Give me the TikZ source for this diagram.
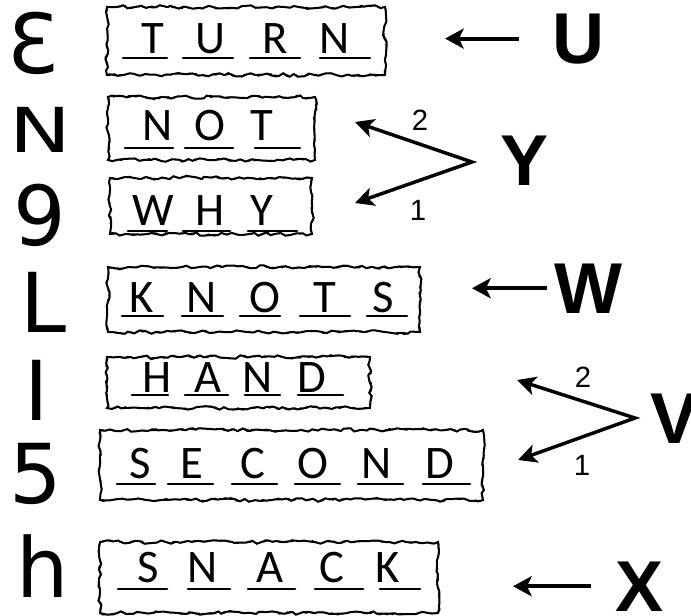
\documentclass[tikz,border=0pt]{standalone}
\usepackage{fontspec}
\setmainfont{Carlito}
\newfontfamily\glyphfont{DejaVu Sans}
\newfontfamily\tagfont{Liberation Sans}
\usetikzlibrary{arrows.meta,decorations.pathmorphing}
\tikzset{
  torn/.style={draw, line width=1.5pt, inner sep=0pt, decorate,
    decoration={random steps,segment length=4pt,amplitude=1.3pt},
    postaction={draw, line width=0.8pt, decorate,
      decoration={random steps,segment length=2.5pt,amplitude=1pt}}},
  lett/.style={anchor=base, inner sep=0.75pt, font=\fontsize{35}{35}\selectfont},
  uline/.style={line width=2.2pt, line cap=round},
  glyph/.style={anchor=base, inner sep=0.75pt, font=\glyphfont\fontsize{62}{62}\selectfont},
  tag/.style={anchor=base, inner sep=0.75pt, font=\tagfont\bfseries\fontsize{54}{54}\selectfont},
  num/.style={inner sep=0.75pt, font=\tagfont\fontsize{22}{22}\selectfont},
  pointer/.style={line width=3pt, -{Stealth[length=14pt,width=15pt,inset=3.5pt]}},
  fork/.style={line width=2.6pt, line join=miter,
    {Stealth[length=14pt,width=14pt,inset=3.5pt]}-{Stealth[length=14pt,width=14pt,inset=3.5pt]}},
}
\pgfmathsetseed{7}
\begin{document}
\begin{tikzpicture}[x=0.75pt,y=0.75pt,yscale=-1,xscale=1]
\useasboundingbox (0,0) rectangle (691,615);

% Glyph column
\draw (33,73) node [glyph] (gE) {Ɛ};
\draw (40,152) node [glyph] (gN) {\scalebox{1}[0.75]{N}};
\draw (40,245) node [glyph] (gG) {9};
\draw (44,332) node [glyph] (gL) {L};
\draw (37,420) node [glyph] (gI) {I};
\draw (36,503) node [glyph] (gS) {5};
\draw (43,597) node [glyph] (gH) {h};

% Word boxes
\node [torn, minimum width=208.5pt, minimum height=51pt] (turn) at (246,41) {};
\node [torn, minimum width=155.25pt, minimum height=47.25pt] (not) at (211.5,128.5) {};
\node [torn, minimum width=151.5pt, minimum height=42pt] (why) at (211,206) {};
\node [torn, minimum width=234pt, minimum height=48.75pt] (knots) at (264,299.5) {};
\node [torn, minimum width=197.25pt, minimum height=38.25pt] (hand) at (238.5,382.5) {};
\node [torn, minimum width=287.25pt, minimum height=52.5pt] (second) at (291.5,465) {};
\node [torn, minimum width=253.5pt, minimum height=53.25pt] (snack) at (269,577.5) {};

% Letters and blanks
\foreach \ch/\x/\a/\b [count=\i] in {T/153/123/167,U/210/183/233,R/275/250/300,N/335/320/370}{
  \draw (\x,53) node [lett] (turn-\i) {\ch};
  \draw [uline] (\a,58) -- (\b,58);
}
\foreach \ch/\x/\a/\b [count=\i] in {N/158/125/173,O/210/185/233,T/262/255/300}{
  \draw (\x,140) node [lett] (not-\i) {\ch};
  \draw [uline] (\a,148) -- (\b,148);
}
\foreach \ch/\x/\a/\b [count=\i] in {W/153/128/167,H/210/183/230,Y/262/248/297}{
  \draw (\x,225) node [lett] (why-\i) {\ch};
  \draw [uline] (\a,231) -- (\b,231);
}
\foreach \ch/\x/\a/\b [count=\i] in {K/142/122/163,N/202/182/223,O/265/240/280,T/325/300/350,S/383/367/407}{
  \draw (\x,312) node [lett] (knots-\i) {\ch};
  \draw [uline] (\a,316) -- (\b,316);
}
\foreach \ch/\x/\a/\b [count=\i] in {H/157/132/168,A/208/185/228,N/258/245/280,D/312/298/343}{
  \draw (\x,392) node [lett] (hand-\i) {\ch};
  \draw [uline] (\a,395) -- (\b,395);
}
\foreach \ch/\x/\a/\b [count=\i] in {S/140/117/155,E/192/168/213,C/253/232/277,O/313/295/340,N/377/358/403,D/440/423/470}{
  \draw (\x,478) node [lett] (second-\i) {\ch};
  \draw [uline] (\a,484) -- (\b,484);
}
\foreach \ch/\x/\a/\b [count=\i] in {S/148/118/167,N/203/188/230,A/270/248/295,C/332/315/363,K/388/380/420}{
  \draw (\x,582) node [lett] (snack-\i) {\ch};
  \draw [uline] (\a,589) -- (\b,589);
}

% Text Node
\draw (578,63) node [tag] (lblU) {U};
\draw (525,185) node [tag] (lblY) {Y};
\draw (588,313) node [tag] (lblW) {W};
\draw (674,443) node [tag] (lblV) {V};
\draw (639,611) node [tag] (lblX) {X};

% Text Node
\draw (420,120) node [num] (y2) {2};
\draw (418,210) node [num] (y1) {1};
\draw (583,377) node [num] (v2) {2};
\draw (582,465) node [num] (v1) {1};

% Arrow ends
\coordinate (tipU) at (445,32);
\coordinate (tipW) at (472,293);
\coordinate (tipX) at (513,581);
\coordinate (yTop) at (355,122);
\coordinate (yMid) at (472,162);
\coordinate (yBot) at (355,203);
\coordinate (vTop) at (517,380);
\coordinate (vMid) at (635,418);
\coordinate (vBot) at (518,460);

%Straight Lines
\draw [pointer, shorten <=24pt] (lblU.west) -- (lblU.west -| tipU);
\draw [pointer, shorten <=4pt] (lblW.west) -- (lblW.west -| tipW);
\draw [pointer, shorten <=17pt] (lblX.west) -- (lblX.west -| tipX);
\draw [fork] (yTop) -- (yMid) -- (yBot);
\draw [fork] (vTop) -- (vMid) -- (vBot);

\end{tikzpicture}
\end{document}
